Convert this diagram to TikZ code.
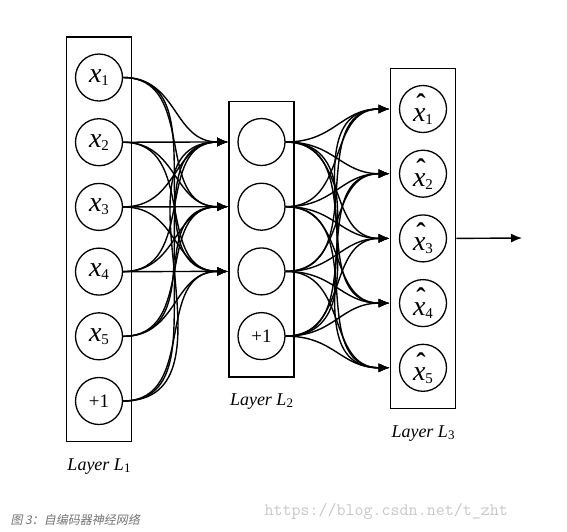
\documentclass[tikz,border=0pt]{standalone}
\usepackage{fontspec}
\setmainfont{Liberation Serif}
\newfontfamily\cjkfont[FakeSlant=0.2]{Noto Sans CJK SC}
\usetikzlibrary{arrows.meta, positioning, fit}

% input, output and layer labels
\newcommand{\xin}[1]{\textit{x}\raisebox{-3pt}{\fontsize{15}{15}\selectfont #1}}
\newcommand{\xout}[1]{\makebox[0pt][l]{\hspace{0.06em}\makebox[0.444em][c]{\raisebox{8pt}{\textbf{ˆ}}}}\textit{x}\raisebox{-3pt}{\fontsize{15}{15}\selectfont #1}}
\newcommand{\layername}[1]{\textit{Layer L}\raisebox{-1.5pt}{\fontsize{13}{13}\selectfont #1}}

\begin{document}
\begin{tikzpicture}[
    x=1pt, y=-1pt,
    node distance=16.4pt,
    neuron/.style={
      circle, draw, line width=1.3pt,
      minimum size=47pt, inner sep=0pt,
      font=\fontsize{28}{30}\selectfont
    },
    bias/.style={neuron, font=\fontsize{19}{21}\selectfont},
    layerbox/.style={
      rectangle, draw, line width=1.5pt,
      inner xsep=8.5pt, inner ysep=16.5pt
    },
    lbl/.style={font=\fontsize{18}{20}\selectfont},
    arr/.style={-{Latex[length=11pt,width=9pt]}, line width=1.4pt},
    link/.style={arr, out=0, in=180, looseness=1.15}
  ]
    \useasboundingbox (0,0) rectangle (567,531);

    % input layer
    \node[neuron] (x1) at (99,77.5) {\xin{1}};
    \node[neuron, below=of x1] (x2) {\xin{2}};
    \node[neuron, below=of x2] (x3) {\xin{3}};
    \node[neuron, below=of x3] (x4) {\xin{4}};
    \node[neuron, below=of x4] (x5) {\xin{5}};
    \node[bias, below=of x5] (p1) {+1};

    % hidden layer
    \node[neuron] (h1) at (261.5,142) {};
    \node[neuron, below=of h1] (h2) {};
    \node[neuron, below=of h2] (h3) {};
    \node[bias, below=of h3] (p2) {+1};

    % output layer
    \node[neuron] (o1) at (423,109) {\xout{1}};
    \node[neuron, below=of o1] (o2) {\xout{2}};
    \node[neuron, below=of o2] (o3) {\xout{3}};
    \node[neuron, below=of o3] (o4) {\xout{4}};
    \node[neuron, below=of o4] (o5) {\xout{5}};

    \node[layerbox, fit=(x1)(p1)] (L1) {};
    \node[layerbox, fit=(h1)(p2)] (L2) {};
    \node[layerbox, fit=(o1)(o5)] (L3) {};

    \node[lbl, below=13pt of L1] (lab1) {\layername{1}};
    \node[lbl, below=13pt of L2] (lab2) {\layername{2}};
    \node[lbl, below=13pt of L3] (lab3) {\layername{3}};

    \foreach \i in {x1,x2,x3,x4,x5,p1}
      \foreach \j in {h1,h2,h3}
        \draw[link] (\i.east) to (L2.west |- \j);
    \foreach \i in {h1,h2,h3,p2}
      \foreach \j in {o1,o2,o3,o4,o5}
        \draw[link] (\i.east) to (L3.west |- \j);

    \coordinate (yhat) at (522,238);
    \draw[arr] (L3.east |- o3) -- (yhat);

    % caption and watermark
    \node[anchor=west, text=black!55, font=\cjkfont\fontsize{12}{14}\selectfont] (cap) at (7,520) {图 3：自编码器神经网络};
    \node[anchor=west, text=black!22, font=\ttfamily\fontsize{17.5}{18}\selectfont] (wm) at (261,511) {https://blog.csdn.net/t\_zht};
  \end{tikzpicture}
\end{document}
